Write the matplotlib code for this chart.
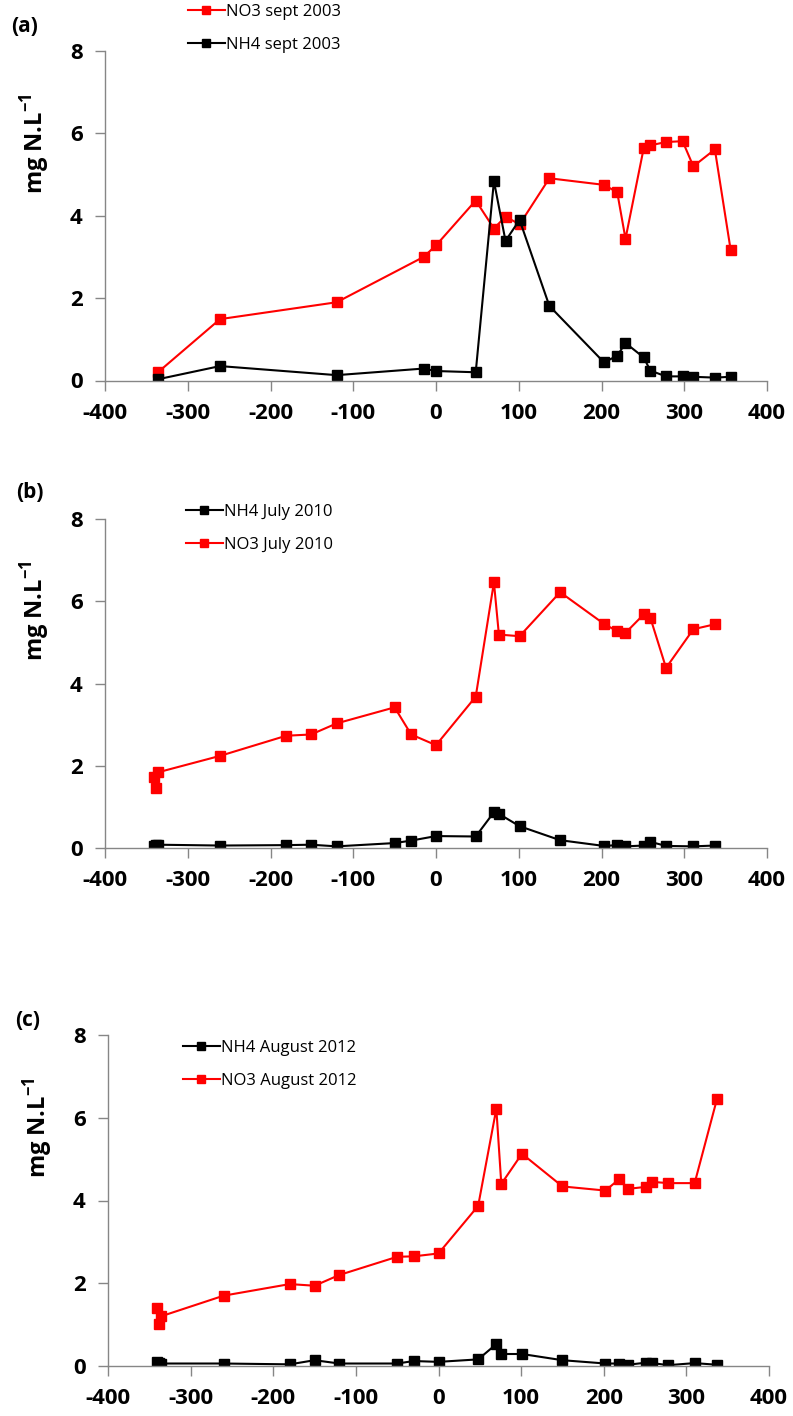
import matplotlib
matplotlib.use("Agg")
import matplotlib.pyplot as plt

plt.rcParams["font.family"] = ["Open Sans", "DejaVu Sans"]
plt.rcParams["axes.unicode_minus"] = False
plt.rcParams["mathtext.fontset"] = "custom"
plt.rcParams["mathtext.bf"] = "Open Sans:bold"
plt.rcParams["mathtext.rm"] = "Open Sans"

# panel (a) - sept 2003
a_x = [-336, -261, -120, -15, 0, 48, 70, 84, 101, 137, 203, 219, 229, 251, 259, 278, 298, 311, 337, 356]
a_no3 = [0.20, 1.49, 1.90, 3.00, 3.28, 4.37, 3.69, 3.98, 3.79, 4.91, 4.75, 4.57, 3.44, 5.64, 5.71, 5.79, 5.81, 5.20, 5.61, 3.18]
a_nh4 = [0.03, 0.35, 0.13, 0.29, 0.23, 0.20, 4.84, 3.39, 3.90, 1.81, 0.44, 0.60, 0.91, 0.56, 0.24, 0.10, 0.10, 0.09, 0.07, 0.09]

# panel (b) - July 2010
b_x = [-341, -338, -336, -261, -181, -151, -120, -50, -30, 0, 48, 70, 76, 101, 150, 203, 219, 229, 251, 259, 278, 311, 337]
b_no3 = [1.73, 1.47, 1.84, 2.24, 2.73, 2.76, 3.03, 3.42, 2.76, 2.50, 3.68, 6.46, 5.19, 5.15, 6.22, 5.45, 5.27, 5.23, 5.68, 5.60, 4.38, 5.32, 5.44]
b_nh4 = [0.06, 0.07, 0.08, 0.06, 0.07, 0.08, 0.04, 0.12, 0.18, 0.29, 0.28, 0.87, 0.83, 0.53, 0.19, 0.05, 0.07, 0.04, 0.06, 0.15, 0.05, 0.04, 0.06]

# panel (c) - August 2012
c_x = [-341, -338, -336, -260, -180, -150, -120, -50, -30, 0, 48, 70, 76, 101, 150, 202, 219, 229, 251, 259, 278, 310, 337]
c_no3 = [1.39, 1.01, 1.20, 1.70, 1.98, 1.94, 2.20, 2.64, 2.65, 2.72, 3.87, 6.22, 4.40, 5.13, 4.34, 4.24, 4.52, 4.28, 4.33, 4.45, 4.42, 4.42, 6.45]
c_nh4 = [0.09, 0.08, 0.06, 0.06, 0.04, 0.14, 0.06, 0.06, 0.12, 0.10, 0.16, 0.53, 0.29, 0.29, 0.14, 0.06, 0.06, 0.03, 0.08, 0.07, 0.02, 0.07, 0.03]

x_ticks = [-400, -300, -200, -100, 0, 100, 200, 300, 400]
y_ticks = [0, 2, 4, 6, 8]

fig = plt.figure(figsize=(7.93, 14.16), dpi=100)

W, H = 793, 1416
# axes boxes in pixels: left, top, right, bottom
boxes = [(105, 51, 767, 380.5), (105, 519, 767, 848), (108, 1035, 769, 1366)]

panels = [
    ("(a)", a_x, [("NO3 sept 2003", a_no3, "red"), ("NH4 sept 2003", a_nh4, "black")], (25, 27), (188, 4)),
    ("(b)", b_x, [("NH4 July 2010", b_nh4, "black"), ("NO3 July 2010", b_no3, "red")], (30, 492), (186, 504)),
    ("(c)", c_x, [("NH4 August 2012", c_nh4, "black"), ("NO3 August 2012", c_no3, "red")], (28, 1020), (183, 1040)),
]

for (label, xs, series, lab_pos, leg_pos), box in zip(panels, boxes):
    l, t, r, b = box
    ax = fig.add_axes([l / W, 1 - b / H, (r - l) / W, (b - t) / H])
    for name, ys, col in series:
        ax.plot(xs, ys, color=col, marker="s", markersize=7, lw=1.5, label=name)
    ax.set_xlim(-400, 400)
    ax.set_ylim(0, 8)
    ax.set_xticks(x_ticks)
    ax.set_yticks(y_ticks)
    for s in ["top", "right"]:
        ax.spines[s].set_visible(False)
    for s in ["left", "bottom"]:
        ax.spines[s].set_color("#868686")
        ax.spines[s].set_linewidth(1.0)
    ax.tick_params(axis="both", direction="out", length=7, width=1, color="#868686",
                   labelsize=16, pad=9)
    for tl in ax.get_xticklabels() + ax.get_yticklabels():
        tl.set_fontweight("bold")
    ax.set_ylabel("mg N.L$^{\\mathbf{-1}}$", fontsize=17, fontweight="bold")
    ax.yaxis.set_label_coords(-0.08, 0.72)
    fig.text(lab_pos[0] / W, 1 - lab_pos[1] / H, label, fontsize=15, fontweight="bold",
             ha="center", va="center")
    ax.legend(loc="upper left", bbox_to_anchor=(leg_pos[0] / W, 1 - leg_pos[1] / H),
              bbox_transform=fig.transFigure, frameon=False, fontsize=12,
              handlelength=2.2, handletextpad=0.1, labelspacing=1.0, markerscale=0.75,
              borderaxespad=0, borderpad=0)

fig.savefig("out.png", dpi=100)
